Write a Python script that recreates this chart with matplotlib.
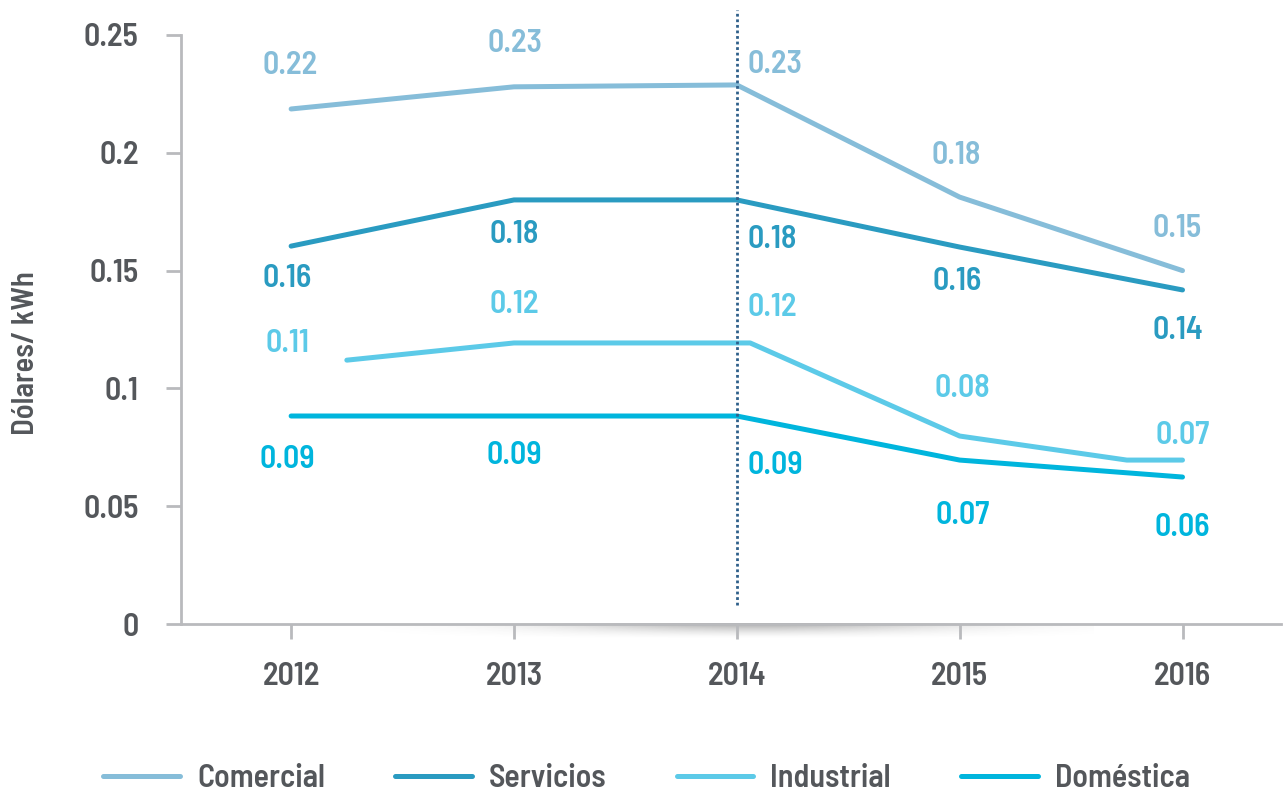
import numpy as np
import matplotlib.pyplot as plt
from matplotlib.lines import Line2D

# Data
years = [2012, 2013, 2014, 2015, 2016]
comercial = [0.2186, 0.228, 0.2288, 0.1812, 0.150]
servicios = [0.1604, 0.180, 0.180, 0.160, 0.1418]
# industrial line has extra kinks between the years
industrial_x = [2012.25, 2013, 2014.06, 2015, 2015.75, 2016]
industrial_y = [0.112, 0.1193, 0.1193, 0.0798, 0.0696, 0.0696]
industrial = [0.112, 0.1193, 0.1193, 0.0798, 0.0696]
domestica = [0.0883, 0.0883, 0.0883, 0.0696, 0.0624]

names = ["Comercial", "Servicios", "Industrial", "Doméstica"]
colors = ["#86bdd9", "#2a9bc1", "#5ccae8", "#00b5dd"]
text_gray = "#54575b"
axis_gray = "#b9babd"
fam = ['Barlow Semi Condensed', 'DejaVu Sans']

# label offsets in pixels (dx, dy, ha) per series / year
offsets = {
    "Comercial": [(-1, 43, "center"), (1, 43, "center"), (11, 20, "left"), (-3, 42, "center"), (-5, 42, "center")],
    "Servicios": [(-4, -32, "center"), (0, -35, "center"), (11, -40, "left"), (-3, -34, "center"), (-5, -41, "center")],
    "Industrial": [(-4, 17, "center"), (0, 38, "center"), (11, 35, "left"), (3, 48, "center"), (0, 25, "center")],
    "Doméstica": [(-4, -43, "center"), (0, -39, "center"), (11, -49, "left"), (3, -55, "center"), (0, -50, "center")],
}

plt.rcParams['font.family'] = fam
plt.rcParams['font.weight'] = 'semibold'

fig = plt.figure(figsize=(12.83, 7.95), dpi=100)
ax = fig.add_axes([0.1411, 0.215, 0.857, 0.741])

lw = 3.6
ax.plot(years, comercial, color=colors[0], lw=lw, solid_capstyle="round", solid_joinstyle="round")
ax.plot(years, servicios, color=colors[1], lw=lw, solid_capstyle="round", solid_joinstyle="round")
ax.plot(industrial_x, industrial_y, color=colors[2], lw=lw, solid_capstyle="round", solid_joinstyle="round")
ax.plot(years, domestica, color=colors[3], lw=lw, solid_capstyle="round", solid_joinstyle="round")

# value labels
series = {"Comercial": comercial, "Servicios": servicios, "Industrial": industrial, "Doméstica": domestica}
for i, name in enumerate(names):
    vals = series[name]
    for j, (yr, v) in enumerate(zip(years, vals)):
        dx, dy, ha = offsets[name][j]
        x = industrial_x[0] if (name == "Industrial" and j == 0) else yr
        shift = (x - yr) * 222.75
        ax.annotate(f"{v:.2f}", xy=(x, v), xytext=(dx - shift, dy),
                    textcoords="offset pixels", ha=ha, va="center",
                    fontsize=23, color=colors[i], weight="semibold")

# dotted line at 2014
ax.plot([2014, 2014], [0.008, 0.2606], color="#2e5f8a", lw=2.0,
        linestyle=(0, (1, 1)), clip_on=False)

# soft shadow below the x axis
ny, nx = 20, 300
gy = np.linspace(1, 0, ny)[:, None] ** 1.5
gx = np.exp(-((np.linspace(-1, 1, nx) - 0.05) / 0.55) ** 2)[None, :]
shade = np.zeros((ny, nx, 4))
shade[..., :3] = 0.25
shade[..., 3] = 0.45 * gy * gx
ax.imshow(shade, extent=(2012.4, 2015.6, -0.0065, 0), aspect="auto",
          clip_on=False, zorder=0, interpolation="bilinear")

ax.set_xlim(2011.506, 2016.44)
ax.set_ylim(0, 0.25)
ax.set_xticks(years)
ax.set_xticklabels([str(y) for y in years])
ax.set_yticks([0, 0.05, 0.1, 0.15, 0.2, 0.25])
ax.set_yticklabels(["0", "0.05", "0.1", "0.15", "0.2", "0.25"])

for s in ["top", "right"]:
    ax.spines[s].set_visible(False)
for s in ["left", "bottom"]:
    ax.spines[s].set_color(axis_gray)
    ax.spines[s].set_linewidth(2)
ax.tick_params(axis="both", length=10.5, width=2, color=axis_gray,
               labelsize=23, labelcolor=text_gray)
ax.tick_params(axis="y", pad=20)
ax.tick_params(axis="x", pad=17)
for t in ax.get_xticklabels() + ax.get_yticklabels():
    t.set_weight("semibold")

ax.set_ylabel("Dólares/ kWh", fontsize=22, color=text_gray, weight="semibold")
ax.yaxis.set_label_coords(-0.128, 0.46)

handles = [Line2D([0], [0], color=c, lw=3.6, solid_capstyle="round") for c in colors]
fig.legend(handles, names, loc="center", bbox_to_anchor=(0.504, 0.021), ncol=4,
           frameon=False, handlelength=2.4, handletextpad=0.53,
           columnspacing=2.2, labelcolor=text_gray,
           prop={"family": fam, "weight": "semibold", "size": 23})

fig.savefig("out.png", dpi=100)
